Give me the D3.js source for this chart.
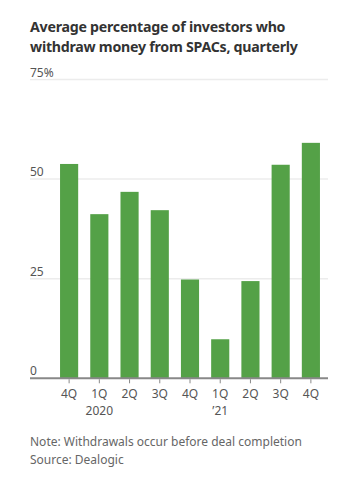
<!DOCTYPE html>
<html>
<head>
<meta charset="utf-8">
<script src="https://cdn.jsdelivr.net/npm/d3@7"></script>
<style>
  html, body { margin: 0; padding: 0; background: #fff; }
  svg { display: block; }
  text { font-family: "Noto Sans", "Open Sans", sans-serif; }
</style>
</head>
<body>
<svg id="chart" width="347" height="483"></svg>
<script>
// Quarterly average share of SPAC investors who redeem before the deal closes
const quarters = ["4Q19", "1Q20", "2Q20", "3Q20", "4Q20", "1Q21", "2Q21", "3Q21", "4Q21"];
const quarterLabels = ["4Q", "1Q", "2Q", "3Q", "4Q", "1Q", "2Q", "3Q", "4Q"];
const yearLabels = ["", "2020", "", "", "", "\u201921", "", "", ""];
const withdrawPct = [53.8, 41.2, 46.8, 42.2, 24.8, 9.8, 24.4, 53.6, 59.1];
const yTicks = [0, 25, 50, 75];
const yTickLabels = ["0", "25", "50", "75%"];

const svg = d3.select("#chart");
const plotLeft = 30, plotRight = 328, plotTop = 79.5, plotBottom = 378.3;
const sans = "\"Noto Sans\", \"Open Sans\", sans-serif";

const x = d3.scaleBand().domain(quarters).range([54, 326]).paddingInner(0.4).paddingOuter(0.2);
const y = d3.scaleLinear().domain([0, 75]).range([plotBottom, plotTop]);

// Title
svg.append("text")
  .attr("x", plotLeft).attr("y", 0)
  .attr("font-size", 14.2).attr("font-weight", 700).attr("fill", "#333")
  .attr("letter-spacing", -0.25)
  .selectAll("tspan")
  .data(["Average percentage of investors who", "withdraw money from SPACs, quarterly"])
  .join("tspan")
  .attr("x", plotLeft)
  .attr("y", (d, i) => 31.5 + i * 20)
  .text(d => d);

// Horizontal gridlines
svg.append("g").selectAll("line")
  .data(yTicks.filter(d => d > 0))
  .join("line")
  .attr("x1", plotLeft).attr("x2", plotRight)
  .attr("y1", d => y(d)).attr("y2", d => y(d))
  .attr("stroke", "#ececec").attr("stroke-width", 1.5);

// Bars
svg.append("g").selectAll("rect")
  .data(withdrawPct)
  .join("rect")
  .attr("x", (d, i) => x(quarters[i]))
  .attr("width", x.bandwidth())
  .attr("y", d => y(d))
  .attr("height", d => y(0) - y(d))
  .attr("fill", "#54a147");

// Y tick labels sitting on the gridlines
svg.append("g").selectAll("text")
  .data(yTicks)
  .join("text")
  .attr("x", plotLeft)
  .attr("y", d => y(d) - 3)
  .attr("font-size", 12).attr("fill", "#555")
  .attr("stroke", "#fff").attr("stroke-width", 4).attr("paint-order", "stroke")
  .text((d, i) => yTickLabels[i]);

// Baseline
svg.append("line")
  .attr("x1", plotLeft).attr("x2", plotRight)
  .attr("y1", y(0)).attr("y2", y(0))
  .attr("stroke", "#888").attr("stroke-width", 2);

// X axis ticks and labels
const xAxis = d3.axisBottom(x).tickSize(4).tickPadding(6).tickFormat((d, i) => quarterLabels[i]);
const gx = svg.append("g").attr("transform", `translate(0,${y(0) + 1})`).call(xAxis);
gx.select(".domain").remove();
gx.selectAll(".tick line").attr("stroke", "#888");
gx.selectAll(".tick text")
  .attr("font-size", 12).attr("fill", "#555")
  .attr("font-family", sans);
gx.selectAll(".tick").append("text")
  .attr("y", 27).attr("dy", "0.71em")
  .attr("text-anchor", "middle")
  .attr("font-size", 12).attr("fill", "#555")
  .attr("font-family", sans)
  .text((d, i) => yearLabels[i]);

// Footnotes
svg.append("g").selectAll("text")
  .data(["Note: Withdrawals occur before deal completion", "Source: Dealogic"])
  .join("text")
  .attr("x", plotLeft)
  .attr("y", (d, i) => 446 + i * 18)
  .attr("font-size", 12).attr("fill", "#666")
  .text(d => d);
</script>
</body>
</html>
